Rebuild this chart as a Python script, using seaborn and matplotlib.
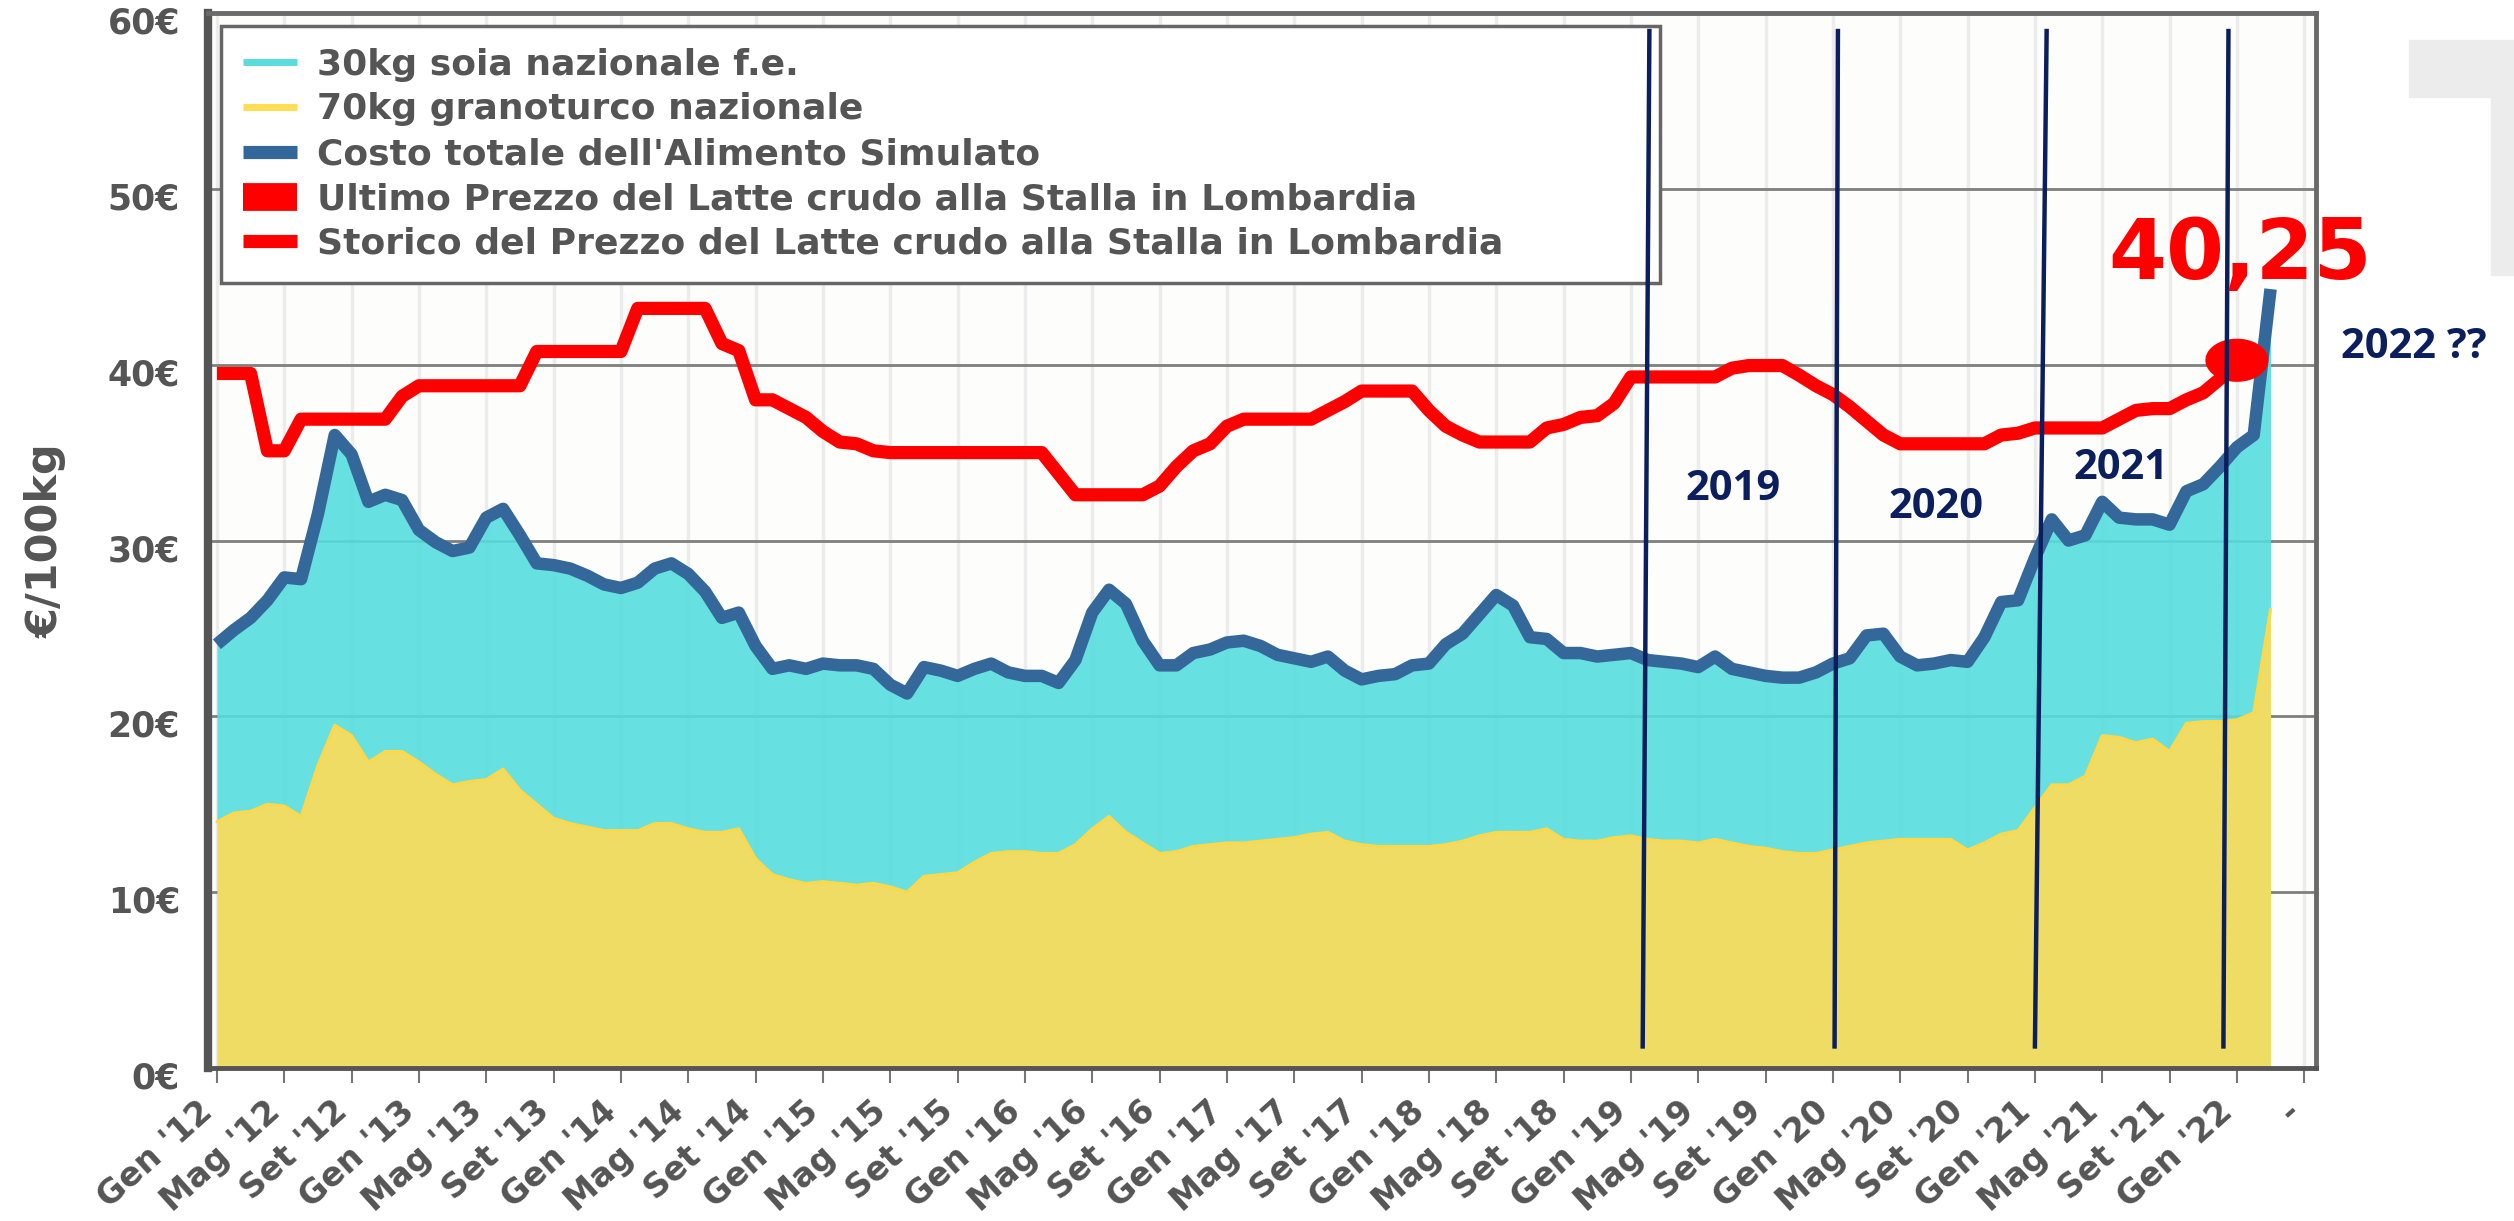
import numpy as np
import pandas as pd
import seaborn as sns
import matplotlib.pyplot as plt
import matplotlib.transforms as mtransforms
from matplotlib.lines import Line2D
from matplotlib.patches import Rectangle
from matplotlib.path import Path

# -----------------------
# Dati (€/100kg, mensili da Gen '12)
# -----------------------

granoturco = [
    14.0, 14.5, 14.6, 15.0, 14.9, 14.3, 17.2, 19.5, 18.9, 17.4,
    18.0, 18.0, 17.4, 16.7, 16.1, 16.3, 16.4, 17.0, 15.8, 15.0,
    14.2, 13.9, 13.7, 13.5, 13.5, 13.5, 13.9, 13.9, 13.6, 13.4,
    13.4, 13.6, 11.9, 11.0, 10.7, 10.5, 10.6, 10.5, 10.4, 10.5,
    10.3, 10.0, 10.9, 11.0, 11.1, 11.7, 12.2, 12.3, 12.3, 12.2,
    12.2, 12.7, 13.6, 14.3, 13.4, 12.8, 12.2, 12.3, 12.6, 12.7,
    12.8, 12.8, 12.9, 13.0, 13.1, 13.3, 13.4, 12.9, 12.7, 12.6,
    12.6, 12.6, 12.6, 12.7, 12.9, 13.2, 13.4, 13.4, 13.4, 13.6,
    13.0, 12.9, 12.9, 13.1, 13.2, 13.0, 12.9, 12.9, 12.8, 13.0,
    12.8, 12.6, 12.5, 12.3, 12.2, 12.2, 12.4, 12.6, 12.8, 12.9,
    13.0, 13.0, 13.0, 13.0, 12.4, 12.8, 13.3, 13.5, 14.8, 16.1,
    16.1, 16.6, 18.9, 18.8, 18.5, 18.7, 18.0, 19.6, 19.7, 19.7,
    19.8, 20.2, 26.1,
]

costo_totale = [
    24.1, 24.9, 25.6, 26.6, 27.9, 27.8, 31.5, 36.0, 34.9, 32.2,
    32.6, 32.3, 30.6, 29.9, 29.4, 29.6, 31.3, 31.8, 30.3, 28.7,
    28.6, 28.4, 28.0, 27.5, 27.3, 27.6, 28.4, 28.7, 28.1, 27.1,
    25.6, 25.9, 24.0, 22.7, 22.9, 22.7, 23.0, 22.9, 22.9, 22.7,
    21.8, 21.3, 22.8, 22.6, 22.3, 22.7, 23.0, 22.5, 22.3, 22.3,
    21.9, 23.2, 25.9, 27.2, 26.4, 24.3, 22.9, 22.9, 23.6, 23.8,
    24.2, 24.3, 24.0, 23.5, 23.3, 23.1, 23.4, 22.6, 22.1, 22.3,
    22.4, 22.9, 23.0, 24.1, 24.7, 25.8, 26.9, 26.3, 24.5, 24.4,
    23.6, 23.6, 23.4, 23.5, 23.6, 23.2, 23.1, 23.0, 22.8, 23.4,
    22.7, 22.5, 22.3, 22.2, 22.2, 22.5, 23.0, 23.3, 24.6, 24.7,
    23.4, 22.9, 23.0, 23.2, 23.1, 24.5, 26.5, 26.6, 29.0, 31.2,
    30.0, 30.3, 32.2, 31.3, 31.2, 31.2, 30.9, 32.8, 33.2, 34.2,
    35.3, 36.0, 44.3,
]

latte_storico = [
    39.5, 39.5, 39.5, 35.1, 35.1, 36.9, 36.9, 36.9, 36.9, 36.9,
    36.9, 38.2, 38.8, 38.8, 38.8, 38.8, 38.8, 38.8, 38.8, 40.75,
    40.75, 40.75, 40.75, 40.75, 40.75, 43.2, 43.2, 43.2, 43.2, 43.2,
    41.2, 40.8, 38.0, 38.0, 37.5, 37.0, 36.2, 35.6, 35.5, 35.1,
    35.0, 35.0, 35.0, 35.0, 35.0, 35.0, 35.0, 35.0, 35.0, 35.0,
    33.8, 32.6, 32.6, 32.6, 32.6, 32.6, 33.1, 34.2, 35.1, 35.5,
    36.5, 36.9, 36.9, 36.9, 36.9, 36.9, 37.4, 37.9, 38.5, 38.5,
    38.5, 38.5, 37.4, 36.5, 36.0, 35.6, 35.6, 35.6, 35.6, 36.4,
    36.6, 37.0, 37.1, 37.8, 39.3, 39.3, 39.3, 39.3, 39.3, 39.3,
    39.8, 39.95, 39.95, 39.95, 39.4, 38.8, 38.3, 37.6, 36.8, 36.0,
    35.5, 35.5, 35.5, 35.5, 35.5, 35.5, 36.0, 36.1, 36.4, 36.4,
    36.4, 36.4, 36.4, 36.9, 37.4, 37.5, 37.5, 38.0, 38.4, 39.2,
    40.25,
]

ultimo_prezzo = 40.25
mese_ultimo = 120

etichette_x = [
    "Gen '12", "Mag '12", "Set '12", "Gen '13", "Mag '13", "Set '13",
    "Gen '14", "Mag '14", "Set '14", "Gen '15", "Mag '15", "Set '15",
    "Gen '16", "Mag '16", "Set '16", "Gen '17", "Mag '17", "Set '17",
    "Gen '18", "Mag '18", "Set '18", "Gen '19", "Mag '19", "Set '19",
    "Gen '20", "Mag '20", "Set '20", "Gen '21", "Mag '21", "Set '21",
    "Gen '22", "-",
]
etichette_y = ["0€", "10€", "20€", "30€", "40€", "50€", "60€"]

serie_legenda = [
    "30kg soia nazionale f.e.",
    "70kg granoturco nazionale",
    "Costo totale dell'Alimento Simulato",
    "Ultimo Prezzo del Latte crudo alla Stalla in Lombardia",
    "Storico del Prezzo del Latte crudo alla Stalla in Lombardia",
]

# separatori d'anno disegnati a mano: (mese alto, mese basso)
separatori = [(85.1, 84.7), (96.3, 96.1), (108.7, 108.0), (119.5, 119.2)]
anni_note = ["2019", "2020", "2021", "2022 ??"]
pos_note = [(90.1, 32.9), (102.1, 31.9), (113.1, 34.1), (130.5, 41.0)]

df = pd.DataFrame({
    "mese": np.arange(len(costo_totale)),
    "granoturco": granoturco,
    "totale": costo_totale,
})
latte = pd.DataFrame({"mese": np.arange(len(latte_storico)), "prezzo": latte_storico})

# -----------------------
# Stile
# -----------------------

sns.set_theme(style="white")
plt.rcParams["font.family"] = ["DejaVu Sans"]

GRIGIO = "#555555"
BLU = "#35689a"
CIANO = "#55dddd"
GIALLO = "#eedc64"
ROSSO = "#ff0000"
NAVY = "#0b1f5e"

W, H = 2514, 1221
fig = plt.figure(figsize=(W / 100, H / 100), dpi=100)
ax = fig.add_axes([208 / W, 1 - 1068 / H, (2316 - 208) / W, (1068 - 13) / H])
ax.set_facecolor("#fdfdfb")

# watermark in alto a destra
fig.add_artist(Rectangle((2409 / W, 1 - 97 / H), (W - 2409) / W, 57 / H,
                         transform=fig.transFigure, color="#ececec", zorder=0))
fig.add_artist(Rectangle((2491 / W, 1 - 275 / H), (W - 2491) / W, 178 / H,
                         transform=fig.transFigure, color="#ececec", zorder=0))

# -----------------------
# Aree e linee
# -----------------------

ax.fill_between(df["mese"], 0, df["granoturco"], color=GIALLO, lw=0, zorder=1)
ax.fill_between(df["mese"], df["granoturco"], df["totale"], color=CIANO,
                alpha=0.9, lw=0, zorder=1)

sns.lineplot(data=df, x="mese", y="granoturco", ax=ax, color="#ffd84a",
             lw=2.2, zorder=2)
sns.lineplot(data=df, x="mese", y="totale", ax=ax, color=BLU, lw=9,
             zorder=3, solid_joinstyle="round", solid_capstyle="butt")
sns.lineplot(data=latte, x="mese", y="prezzo", ax=ax, color=ROSSO, lw=9.5,
             zorder=4, solid_joinstyle="round", solid_capstyle="butt")

t = np.linspace(0, 2 * np.pi, 60)
ellisse = Path(np.c_[1.46 * np.cos(t), np.sin(t)])
sns.scatterplot(x=[mese_ultimo], y=[ultimo_prezzo], ax=ax, marker=ellisse,
                s=2060, color=ROSSO, edgecolor="none", zorder=5)

for top, bot in separatori:
    ax.plot([top, bot], [59.1, 1.1], color=NAVY, lw=3.2, zorder=10,
            solid_capstyle="butt")

for testo, (x, y) in zip(anni_note, pos_note):
    ax.text(x, y, testo, fontsize=30, fontweight="bold", color=NAVY,
            family=["Open Sans", "DejaVu Sans"], ha="center", va="center",
            zorder=11, clip_on=False)

ax.text(120.2, 46.2, "40,25", fontsize=60, fontweight="bold", color=ROSSO,
        ha="center", va="center", zorder=11, clip_on=False)

# -----------------------
# Assi
# -----------------------

ax.set_xlim(-0.53, 124.7)
ax.set_ylim(0, 60)
ax.set_xticks(np.arange(0, 4 * len(etichette_x), 4))
ax.set_xticklabels(etichette_x, rotation=42, ha="right", rotation_mode="anchor",
                   fontsize=24, fontweight="bold", color=GRIGIO)
ax.set_yticks(np.arange(0, 61, 10))
ax.set_yticklabels(etichette_y, fontsize=25, fontweight="bold", color=GRIGIO)
ax.tick_params(axis="x", bottom=True, length=11, width=1.5, color="#777777",
               direction="out", pad=8)
ax.tick_params(axis="y", left=False, length=0, pad=20)

sposta_x = mtransforms.ScaledTranslation(-0.2, 0, fig.dpi_scale_trans)
for lab in ax.get_xticklabels():
    lab.set_transform(lab.get_transform() + sposta_x)
sposta_y = mtransforms.ScaledTranslation(0, -0.07, fig.dpi_scale_trans)
for lab in ax.get_yticklabels():
    lab.set_transform(lab.get_transform() + sposta_y)

ax.set_axisbelow(True)
ax.xaxis.grid(True, color="#ececec", lw=2.5)
ax.yaxis.grid(True, color="#7f7f7f", lw=2)

ax.set_xlabel("")
ax.set_ylabel("€/100kg", fontsize=31, fontweight="bold", color=GRIGIO)
ax.yaxis.set_label_coords(-0.0669, 0.5)

for lato, spine in ax.spines.items():
    spine.set_visible(True)
    spine.set_color(GRIGIO if lato in ("left", "bottom") else "#6a6a6a")
    spine.set_linewidth(6 if lato == "left" else 3.5)

# -----------------------
# Legenda
# -----------------------

handles = [
    Line2D([], [], color="#5bdcdc", lw=5, solid_capstyle="butt"),
    Line2D([], [], color="#ffdd55", lw=5, solid_capstyle="butt"),
    Line2D([], [], color="#336699", lw=9.5, solid_capstyle="butt"),
    Line2D([], [], color=ROSSO, lw=20, solid_capstyle="butt"),
    Line2D([], [], color=ROSSO, lw=9.5, solid_capstyle="butt"),
]
ax_w, ax_h = 2316 - 208, 1068 - 13
leg = ax.legend(handles, serie_legenda, loc="upper left",
                bbox_to_anchor=(13 / ax_w, 1 - 270 / ax_h, 1439 / ax_w, 257 / ax_h),
                mode="expand", borderaxespad=0, frameon=True, fancybox=False,
                framealpha=1, edgecolor="#666666", handlelength=1.5,
                handletextpad=0.55, labelspacing=0.3, borderpad=0.6,
                prop={"size": 26, "weight": "bold"}, labelcolor=GRIGIO)
leg.get_frame().set_linewidth(2.5)
leg.set_zorder(6)

fig.savefig("out.png", dpi=100)
